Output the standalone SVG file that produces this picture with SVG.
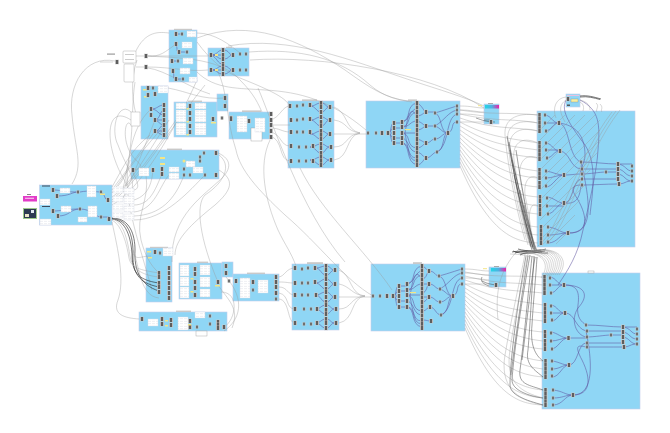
<svg xmlns="http://www.w3.org/2000/svg" width="670" height="433" viewBox="0 0 670 433">
<style>
.g{fill:#8fd6f5;stroke:#c4cdea;stroke-width:.6}
.t{fill:#c9c9c9}
.b{fill:url(#rows);stroke:#d8dbe6;stroke-width:.4}
.o{fill:#fff;stroke:#999;stroke-width:.4}
.y{fill:#f4e585}
.w{fill:none;stroke:#9a9a9a;stroke-width:.4}
.d{fill:none;stroke:#444;stroke-width:.5}
.p{fill:none;stroke:#5f54a0;stroke-width:.55}
.k{fill:none;stroke:#222;stroke-width:.6}
</style>
<defs>
<linearGradient id="gr"><stop offset="0" stop-color="#22d6e6"/><stop offset=".5" stop-color="#4fb0e0"/><stop offset="1" stop-color="#ee1fa6"/></linearGradient>
<pattern id="rows" width="4" height="2.500" patternUnits="userSpaceOnUse"><rect width="4" height="2.500" fill="#fff"/><rect y="1" width="3" height=".4" fill="#d4d7de"/></pattern>
<g id="c"><rect x="-2" y="-2.300" width="4" height="4.600" fill="#d2d2d2"/><rect x="-1.200" y="-2" width="2.400" height="4" fill="#5e5e5e"/></g>
<g id="s"><rect x="-1.600" y="-1.600" width="3.200" height="3.200" fill="#c0c0c0"/><rect x="-.9" y="-1.400" width="1.800" height="2.800" fill="#666"/></g>
<path id="loop" d="M525,252C545,250 556,262 545,277"/>
<path id="fu" d="M538,246C560,230 575,160 612,112"/>
</defs>
<rect width="670" height="433" fill="#fff"/>

<g id="node-groups">
<rect class="g" x="39.5" y="185" width="72.5" height="40"/>
<rect class="g" x="169" y="30" width="28" height="52"/>
<rect class="g" x="208" y="48" width="41" height="28"/>
<rect class="g" x="141" y="86" width="27" height="53"/>
<rect class="g" x="174" y="102" width="43" height="35"/>
<rect class="g" x="217" y="94" width="11" height="17"/>
<rect class="g" x="131" y="150" width="88" height="29"/>
<rect class="g" x="229" y="112" width="41" height="27"/>
<rect class="g" x="288" y="101" width="46" height="67"/>
<rect class="g" x="366" y="101" width="94" height="67"/>
<rect class="g" x="484" y="104" width="15" height="20"/>
<rect class="g" x="537" y="111" width="98" height="136"/>
<rect class="g" x="566" y="94" width="14" height="13"/>
<rect class="g" x="146" y="248" width="26" height="54"/>
<rect class="g" x="179" y="263" width="43" height="36"/>
<rect class="g" x="222" y="262" width="11" height="15"/>
<rect class="g" x="233" y="274" width="46" height="27"/>
<rect class="g" x="292" y="264" width="47" height="66"/>
<rect class="g" x="139" y="312" width="88" height="19"/>
<rect class="g" x="371" y="264" width="94" height="67"/>
<rect class="g" x="489" y="267" width="17" height="20"/>
<rect class="g" x="542" y="273" width="98" height="136"/>
<rect class="t" x="174" y="28.8" width="18" height="1.2"/><rect class="t" x="226" y="46.8" width="6" height="1.2"/>
<rect class="t" x="188" y="100.6" width="14" height="1.4"/><rect class="t" x="167" y="148.6" width="15" height="1.4"/>
<rect class="t" x="242" y="110.4" width="19" height="1.6"/><rect class="t" x="302" y="99.4" width="15" height="1.6"/>
<rect class="t" x="408" y="99.4" width="9" height="1.6"/><rect class="t" x="150" y="246.8" width="18" height="1.2"/>
<rect class="t" x="197" y="261.6" width="11" height="1.4"/><rect class="t" x="247" y="272.6" width="18" height="1.4"/>
<rect class="t" x="307" y="262.2" width="16" height="1.8"/><rect class="t" x="413" y="262.2" width="9" height="1.8"/>
<rect class="t" x="176" y="310.6" width="15" height="1.4"/><rect class="o" x="588" y="271" width="6" height="2"/>
</g>

<g id="connectors">
<path class="w" d="M115,61C85,55 68,85 72,115C75,150 84,165 72,184"/>
<path class="w" d="M135,53C145,30 160,32 169,33M197,33C215,33 230,45 240,53M107,54H115M100,62H113"/>
<path class="w" d="M197,38C250,18 300,40 345,70C370,88 385,98 408,101M228,46C290,35 350,60 410,80C440,90 465,97 484,106"/>
<path class="w" d="M249,52C300,48 340,58 370,85C385,98 400,100 412,102M250,60C320,55 430,72 484,108"/>
<path class="w" d="M136,56H146M136,67H146M148,56C160,57 165,52 176,44M148,56C170,58 220,56 240,80C255,95 258,104 262,112M148,67C170,67 190,72 208,70M148,56H208M148,68C165,70 190,88 210,94"/>
<path class="w" d="M197,42C210,60 225,72 240,78C275,92 285,98 290,106M197,72C215,90 240,88 265,90C300,92 330,100 366,130"/>
<path class="w" d="M168,88C190,92 200,100 226,98M217,70C228,90 226,120 236,150C240,170 258,190 285,215C320,245 345,280 373,296"/>
<path class="w" d="M270,120C280,118 282,106 290,106M270,125H290M270,128C280,128 282,132 290,132M270,132C282,134 280,146 290,146M270,136C284,140 278,160 290,161"/>
<path class="w" d="M334,107C348,112 345,130 360,133M334,120C348,122 345,131 360,133M334,134H368M334,147C348,147 345,135 360,133M334,160C350,158 345,136 360,133"/>
<path class="w" d="M279,277C285,276 286,268 295,268M279,282C288,282 287,283 295,283M279,287C288,287 287,295 295,295M279,293C290,295 285,309 295,309M279,299C290,300 287,323 295,323"/>
<path class="w" d="M339,270C352,275 350,295 365,296M339,284C350,286 352,295 365,296M339,297H373M339,309C352,309 350,297 365,296M339,323C355,320 350,298 365,296"/>
<path class="w" d="M270,140C258,165 265,200 278,230C285,245 291,252 296,266M258,88C272,120 300,210 345,262M300,168C320,210 365,250 392,290"/>
<path class="w" d="M216,152C236,160 228,172 222,178C205,195 170,215 172,262M219,170C235,180 232,190 215,205C190,225 175,240 175,255M219,155C232,165 225,182 205,195C195,205 200,240 218,282"/>
<path class="w" d="M221,292C240,292 236,320 224,327M218,285C228,300 240,308 232,328M226,277C246,300 240,320 224,331"/>
<path class="w" d="M112,187C122,170 130,150 150,135M112,190C125,172 135,160 155,131M112,193C128,170 142,150 165,125M112,197C130,185 140,165 169,120M112,200C135,180 155,150 176,120M112,202C140,180 165,135 205,85M112,205C140,190 175,130 197,80M123,188C130,165 128,130 151,109M123,198C138,165 145,145 155,120"/>
<path class="w" d="M134,190C145,188 128,168 133,170M134,200C150,195 152,180 153,170M134,205C150,205 155,190 162,174M134,212C155,210 160,185 169,175M134,216C160,215 175,200 184,175M134,220C165,220 190,190 205,175"/>
<path class="w" d="M131,112C118,100 110,130 118,145C125,165 135,175 132,190M131,120C108,105 106,135 115,160C122,180 128,182 125,186M131,125C125,115 120,145 136,160C150,175 130,160 126,186"/>
<path class="w" d="M135,82C132,100 133,125 130,150C128,170 125,178 118,186M137,60C130,80 132,105 138,120"/>
<path class="w" d="M112,222C118,250 125,280 118,300C112,315 125,318 139,319M130,160C120,190 138,240 152,290M146,175C150,200 135,215 141,240C145,255 150,265 159,273"/>
<path class="k" d="M112,218C130,218 135,235 135,250C134,270 140,285 159,291M112,218.500C128,219 133,236 133,252C132,272 138,283 159,287M112,219C126,220 131,238 132,254C132,270 136,280 159,283"/>
<path class="w" d="M112,219C125,222 128,245 130,256C132,268 140,275 159,277M112,220C122,225 127,245 129,258C131,268 140,270 159,273M133,250C140,268 140,296 159,298M131,250C136,262 139,256 151,256"/>
<path class="p" d="M53,190C62,190 60,192 78,192M57,196C70,196 72,192 78,192M53,211C62,211 65,209 80,209M58,216C70,216 70,209 80,209M80,192C90,190 95,192 101,192M80,209C92,209 95,217 101,217M101,192C106,195 104,200 108,200M101,217H109"/>
<path class="p" d="M176,34H182M176,44C178,50 176,52 179,52M172,61H178M173,71C175,77 172,79 176,79M179,52H187M176,79H183"/>
<path class="p" d="M211,55C218,55 217,50 223,50M211,55H223M211,55C218,55 217,59 223,59M211,55C218,58 217,64 223,64M223,50C230,50 228,55 233,55M223,59C230,59 228,55 233,55M211,70C218,70 217,66 223,66M211,70H223M211,70C218,70 217,74 223,74M223,66C230,66 228,70 233,70M223,74C230,74 228,70 233,70"/>
<path class="p" d="M151,109C158,109 158,105 164,105M151,109C158,109 158,115 164,115M155,120C160,120 160,110 164,110M155,120H164M155,120C160,122 160,125 164,125M155,131C160,131 160,125 164,125M155,131H164M155,131C160,133 160,135 164,135"/>
<path class="p" d="M321,103C326,103 325,107 330,107M321,112C326,112 325,107 330,107M321,117C326,117 325,120 330,120M321,126C326,126 325,120 330,120M321,131C326,131 325,134 330,134M321,139C326,139 325,134 330,134M321,144C326,144 325,147 330,147M321,153C326,153 325,147 330,147M321,157C326,157 325,160 330,160M321,165C326,165 325,160 330,160M310,106C316,106 316,103 321,103M310,106C316,106 316,112 321,112M310,120C316,120 316,117 321,117M310,120C316,120 316,126 321,126M310,134C316,134 316,131 321,131M310,134C316,134 316,139 321,139M310,147C316,147 316,144 321,144M310,147C316,147 316,153 321,153M310,160C316,160 316,157 321,157M310,160C316,160 316,165 321,165"/>
<path class="p" d="M326,266C331,266 330,270 335,270M326,275C331,275 330,270 335,270M326,279C331,279 330,284 335,284M326,289C331,289 330,284 335,284M326,292C331,292 330,297 335,297M326,302C331,302 330,297 335,297M326,305C331,305 330,309 335,309M326,314C331,314 330,309 335,309M326,319C331,319 330,323 335,323M326,328C331,328 330,323 335,323M315,268C321,268 321,266 326,266M315,268C321,268 321,275 326,275M315,283C321,283 321,279 326,279M315,283C321,283 321,289 326,289M315,295C321,295 321,292 326,292M315,295C321,295 321,302 326,302M315,309C321,309 321,305 326,305M315,309C321,309 321,314 326,314M315,323C321,323 321,319 326,319M315,323C321,323 321,328 326,328"/>
<path class="p" d="M388,133C392,133 390,123 394,123M388,133C392,133 390,128 394,128M388,133H394M388,133C392,133 390,138 394,138M388,133C392,133 390,143 394,143"/>
<path class="p" d="M402,122C412,120 405,105 417,103M402,122C410,120 408,112 417,108M402,127C412,125 405,115 417,112M402,127C410,127 410,121 417,121M402,133H417M402,133C412,134 405,147 417,148M402,138C410,140 408,152 417,152M402,143C412,143 405,160 417,161M402,143C411,145 405,162 417,165M394,123H402M394,128H402M394,138H402M394,143H402M405,133C408,115 410,105 417,116M405,133C408,150 410,160 417,157"/>
<path class="p" d="M417,103C422,105 424,112 426,112M417,116C422,116 424,112 426,112M417,121C422,122 424,126 426,126M417,130C422,130 424,126 426,126M417,139C422,140 424,143 426,143M417,148C422,148 424,143 426,143M417,152C422,153 424,158 426,158M417,165C422,165 424,158 426,158M426,112H435M426,126H435M426,143C431,143 431,139 435,139M426,158C431,158 433,152 437,152M435,113C442,115 440,133 448,133M435,126C441,128 442,133 448,133M435,139C441,139 442,133 448,133M437,152C445,150 442,133 448,133M448,133C455,130 450,122 457,122M435,113C445,110 450,108 457,106M435,126C445,120 448,112 457,110M437,152C450,145 445,118 457,114"/>
<path class="p" d="M393,296C397,296 395,286 399,286M393,296C397,296 395,291 399,291M393,296H399M393,296C397,296 395,301 399,301M393,296C397,296 395,307 399,307M399,286H407M399,291H407M399,301H407M399,307H407"/>
<path class="p" d="M407,284C417,282 410,268 422,266M407,284C415,282 413,275 422,270M407,290C417,288 410,278 422,275M407,290C415,290 415,284 422,284M407,295H422M407,295C417,297 410,310 422,311M407,301C415,303 413,315 422,315M407,307C417,307 410,323 422,324M407,307C416,309 410,325 422,327M410,296C413,278 415,268 422,279M410,296C413,313 415,323 422,320"/>
<path class="p" d="M422,266C427,268 427,271 429,271M422,279C427,279 427,271 429,271M422,284H429M422,293C427,293 427,284 429,284M422,297H429M422,302C427,302 427,297 429,297M422,311C427,311 427,307 430,307M422,320C427,320 427,321 431,321M429,271C435,271 435,276 439,276M429,284C435,284 435,289 440,289M429,297C435,297 435,302 440,302M430,307C435,307 436,315 441,315M439,276C447,278 445,296 453,296M440,289C446,291 447,296 453,296M440,302C446,302 447,296 453,296M441,315C450,313 447,296 453,296M453,296C460,293 455,284 462,284M439,276C450,273 455,271 462,269M440,289C450,283 453,275 462,273M441,315C455,308 450,281 462,278"/>
<path class="p" d="M545,115C552,116 552,123 559,123M545,123H559M545,131C552,131 552,123 559,123M546,143C553,144 553,151 560,151M546,150H560M546,158C553,158 553,151 560,151M546,171C553,172 557,175 564,175M546,178C553,178 557,175 564,175M546,187C553,187 557,175 564,175M547,197C555,198 557,203 564,203M547,206H564M547,214C555,214 557,203 564,203M548,227C558,228 560,233 568,233M548,235C558,235 560,233 568,233M548,243C558,243 560,233 568,233"/>
<path class="p" d="M559,123C570,125 568,158 581,162M560,151C570,152 570,168 581,169M564,175C572,175 574,174 581,174M564,203C574,203 572,180 581,179M568,233C590,233 588,215 575,195C570,187 575,185 581,185M559,123C575,125 585,135 585,155C585,165 578,170 581,174M568,233C595,235 590,200 581,162M564,203C578,205 580,195 581,185"/>
<path class="p" d="M581,162C595,162 605,164 618,164M581,169H618M581,174C590,174 600,172 606,172M581,179H618M581,185C595,185 605,184 618,184M606,172H618M618,164H632M618,164C626,165 626,171 632,171M618,169C625,170 625,176 632,176M618,174C625,175 625,181 632,181M618,184C625,184 625,181 632,181"/>
<path class="p" d="M580,100C600,110 600,125 598,150C597,170 590,200 583,230C578,255 568,270 558,285M568,98C558,108 570,125 585,145C598,165 592,195 590,215"/>
<path class="p" d="M550,277C557,278 557,285 564,285M550,285H564M550,293C557,293 557,285 564,285M551,305C558,306 558,313 565,313M551,313H565M551,321C558,321 558,313 565,313M551,332C558,333 561,338 568,338M551,341C558,341 561,338 568,338M551,349C558,349 561,338 568,338M552,361C560,362 562,365 569,365M552,369C560,369 562,365 569,365M552,377C560,377 562,365 569,365M553,390C563,391 565,395 573,395M553,398C563,398 565,395 573,395M553,405C563,405 565,395 573,395"/>
<path class="p" d="M564,285C576,285 580,290 578,305C576,318 582,322 586,325M565,313C575,313 575,328 586,331M568,338H586M569,365C578,365 578,343 586,343M573,395C590,395 592,380 582,360C574,345 578,345 586,347M564,285C585,285 590,295 578,308C570,320 576,335 586,337M573,395C595,395 592,360 586,331"/>
<path class="p" d="M586,325C600,325 610,327 623,327M586,331H623M586,337C595,337 605,335 611,335M586,343H623M586,347C600,347 610,347 623,347M611,335H623M623,327H637M623,327C631,328 631,334 637,334M623,332C630,333 630,339 637,339M623,337C630,338 630,344 637,344M623,347C630,347 630,344 637,344"/>
<path class="d" d="M484,120H490M476,118C482,120 486,122 495,122M489,286C483,284 480,281 482,277M482,281C488,284 490,284 496,285"/>
<path class="w" d="M460,106C472,106 476,108 484,108M460,110C472,110 476,112 484,112M460,114C472,114 476,115 484,116M460,122H484M465,269C476,269 480,271 489,271M465,273C476,273 480,275 489,275M465,278C476,278 480,279 489,280M465,284H489"/>
<path class="w" d="M460,110C490,115 505,112 538,115M460,114C495,122 510,118 538,123M460,118C495,130 510,126 538,131M460,122C490,138 510,138 538,143M460,126C490,145 510,146 538,150M460,130C490,152 512,155 538,158M460,134C490,160 512,168 538,171M460,138C490,168 512,176 538,178M460,142C490,175 512,185 538,187M460,146C490,185 512,195 538,197M460,150C490,195 515,203 538,206M460,154C490,205 515,212 538,214M460,158C490,215 515,225 538,227M460,162C490,225 515,233 538,235M460,166C490,235 515,242 538,243"/>
<path class="w" d="M465,272C495,278 510,275 543,277M465,276C500,285 515,282 543,285M465,280C500,292 515,290 543,293M465,284C495,300 515,300 543,305M465,288C495,308 515,310 543,313M465,292C495,315 517,318 543,321M465,296C495,322 517,330 543,332M465,300C495,330 517,338 543,341M465,304C495,338 517,347 543,349M465,308C495,348 517,358 543,361M465,312C495,358 520,366 543,369M465,316C495,368 520,375 543,377M465,320C495,378 520,388 543,390M465,324C495,388 520,396 543,398M465,328C495,398 520,404 543,405"/>
<path class="w" d="M538,115C515,112 504,120 505,135C507,160 515,205 525,240M538,123C515,118 506,128 508,140C510,170 518,210 528,245M538,131C518,125 508,135 510,148C514,175 520,215 530,246M538,143C520,135 512,145 514,160C518,185 524,220 532,248M538,158C524,152 518,165 520,178C524,200 528,225 534,248M538,178C528,172 522,185 526,200C530,220 532,238 535,250M538,206C530,200 528,215 530,228C532,240 533,248 536,251"/>
<path class="d" d="M507,136C513,170 522,215 533,247M509,142C515,175 525,215 531,247M512,160C518,185 528,225 533,249M516,150C522,190 528,220 535,251M510,150C516,185 524,225 532,250M514,175C520,200 526,230 534,250M520,190C524,210 530,235 536,250M524,205C528,222 532,238 537,251"/>
<path class="d" d="M543,405C525,400 510,395 510,385C510,360 518,300 526,256M543,398C528,396 512,390 512,380C514,350 522,300 530,255M543,390C530,385 518,385 520,370C524,340 528,295 532,256M543,377C535,370 525,365 528,350C530,325 532,290 534,256M543,361C535,355 530,345 532,325C533,305 536,275 537,257M511,375C515,340 522,295 528,256M522,360C526,330 530,290 535,257"/>
<path class="w" d="M543,405C515,400 500,385 505,355C510,325 520,280 525,254M543,398C520,392 505,382 510,350C514,320 522,285 528,254M518,250C500,270 495,290 498,320M510,254C520,254 530,256 538,258"/>
<path class="k" d="M513,251C522,255 535,253 545,251M515,253C525,249 538,254 548,253M518,249C528,252 536,250 542,252M520,255C528,251 535,252 541,250M512,252C522,250 536,252 546,249"/>
<path class="k" d="M580,96C587,95 594,97 601,99M580,97C588,96 594,98 600,99.500"/>
<path class="w" d="M566,97C556,98 552,108 556,118M566,100C560,104 558,110 565,122M580,100C588,102 590,106 590,110M580,102C584,104 584,108 583,111M596,103C600,106 595,110 597,112M600,104C604,108 600,110 602,112"/>
<g class="w">
<use href="#fu"/><use href="#fu" x="4" y="-1"/><use href="#fu" x="8" y="-2"/>
<use href="#loop"/><use href="#loop" x="2" y="-.5"/><use href="#loop" x="4" y="-1"/><use href="#loop" x="6" y="-1.500"/><use href="#loop" x="8" y="-2"/><use href="#loop" x="10" y="-2"/><use href="#loop" x="12" y="-2"/><use href="#loop" x="14" y="-2"/><use href="#loop" x="-2" y="1"/><use href="#loop" x="-4" y="1"/>
</g>
<path class="w" d="M540,130L555,115M540,140L565,115M540,150L575,115M540,160L585,115M540,170L595,115M540,180L600,120M540,190L600,130M540,200L600,140M540,210L598,152M540,220L590,170M540,230L585,185M540,240L580,200M548,242L575,215M556,244L570,230"/>
</g>

<g id="n1">
<rect class="b" x="40" y="199" width="10" height="6"/><rect class="b" x="40" y="219" width="11" height="6"/><rect class="b" x="60" y="188" width="10" height="5"/><rect class="b" x="61" y="206" width="10" height="6"/><rect class="b" x="78" y="217" width="9" height="5"/><rect class="b" x="87" y="186" width="9" height="11"/><rect class="b" x="88" y="206" width="9" height="11"/>
<use href="#c" x="53" y="190"/><use href="#c" x="57" y="196"/><use href="#c" x="53" y="211"/><use href="#c" x="58" y="216"/><use href="#s" x="78" y="192"/><use href="#s" x="80" y="209"/><use href="#s" x="101" y="192"/><use href="#c" x="108" y="200"/><use href="#s" x="101" y="217"/><use href="#c" x="109" y="219"/><rect class="y" x="100" y="193.500" width="5" height="1.500"/>
<rect fill="#3d4a5a" x="42" y="185.500" width="8" height="1"/><rect fill="#3d4a5a" x="42" y="206" width="8" height="1"/>
</g>
<g id="n2">
<rect class="b" x="113" y="187" width="10" height="6"/><rect class="b" x="113" y="196" width="10" height="6"/><rect class="b" x="113" y="204" width="10" height="6"/><rect class="b" x="113" y="212" width="10" height="6"/><rect class="b" x="124" y="188" width="10" height="6"/><rect class="b" x="124" y="196" width="10" height="8"/><rect class="b" x="124" y="206" width="10" height="6"/><rect class="b" x="124" y="214" width="10" height="6"/>
</g>
<g id="n3"><rect fill="#e23cc8" x="23" y="196" width="14" height="5.500"/><rect fill="#fff" x="25" y="197.800" width="9" height=".8"/><rect fill="#888" x="27" y="194" width="4" height="1"/></g>
<g id="n4"><rect fill="#9cc98a" x="23" y="208" width="14" height="11"/><rect fill="#2c3a52" x="24" y="209" width="12" height="9"/><rect fill="#e9e4c8" x="25" y="214" width="4" height="3"/><rect fill="#dfe7f0" x="31" y="210" width="3" height="3"/></g>
<g id="n5"><rect class="o" x="123" y="51" width="13" height="12" rx="1"/><rect class="o" x="124" y="64" width="10" height="18" rx="1"/><rect fill="#999" x="125" y="54" width="9" height=".5"/><rect fill="#999" x="125" y="59" width="9" height=".5"/><use href="#c" x="117" y="62"/><rect fill="#888" x="107" y="53.700" width="8" height=".8"/><use href="#c" x="146" y="56"/><use href="#c" x="146" y="67"/></g>
<g id="n6"><rect class="b" x="187" y="31" width="9" height="6"/><rect class="b" x="182" y="42" width="10" height="6"/><rect class="b" x="183" y="58" width="10" height="6"/><rect class="b" x="180" y="68" width="10" height="6"/><rect class="b" x="189" y="77" width="8" height="5"/><use href="#c" x="176" y="34"/><use href="#s" x="182" y="34"/><use href="#c" x="176" y="44"/><use href="#c" x="179" y="52"/><use href="#s" x="187" y="52"/><use href="#c" x="172" y="61"/><use href="#s" x="178" y="61"/><use href="#c" x="173" y="71"/><use href="#c" x="176" y="79"/><use href="#s" x="183" y="79"/></g>
<g id="n7"><use href="#c" x="211" y="55"/><rect class="y" x="215" y="54" width="3" height="2"/><use href="#c" x="223" y="50"/><use href="#c" x="223" y="55"/><use href="#c" x="223" y="59"/><use href="#c" x="223" y="64"/><use href="#c" x="233" y="55"/><use href="#s" x="240" y="54"/><use href="#s" x="246" y="54"/><use href="#c" x="211" y="70"/><rect class="y" x="215" y="69" width="3" height="2"/><use href="#c" x="223" y="66"/><use href="#c" x="223" y="69"/><use href="#c" x="223" y="74"/><use href="#c" x="233" y="70"/><use href="#s" x="240" y="70"/><use href="#s" x="246" y="70"/></g>
<g id="n8"><rect class="b" x="158" y="86" width="10" height="7"/><rect class="y" x="143" y="89" width="4" height="1.500"/><rect class="y" x="144" y="96" width="4" height="1.500"/><use href="#c" x="148" y="88"/><use href="#s" x="153" y="88"/><use href="#c" x="148" y="95"/><use href="#c" x="155" y="94"/><use href="#c" x="151" y="109"/><use href="#c" x="155" y="120"/><use href="#c" x="155" y="131"/><use href="#c" x="151" y="115"/><use href="#c" x="164" y="105"/><use href="#c" x="164" y="110"/><use href="#c" x="164" y="115"/><use href="#c" x="164" y="120"/><use href="#c" x="164" y="125"/><use href="#c" x="164" y="130"/><use href="#c" x="164" y="135"/><rect class="o" x="131" y="112" width="9" height="14"/></g>
<g id="n9"><rect class="b" x="176" y="103" width="10" height="6"/><rect class="b" x="176" y="110" width="10" height="6"/><rect class="b" x="176" y="116" width="10" height="6"/><rect class="b" x="176" y="123" width="10" height="6"/><rect class="b" x="176" y="129" width="10" height="6"/><rect class="b" x="195" y="103" width="11" height="6"/><rect class="b" x="195" y="110" width="11" height="6"/><rect class="b" x="195" y="116" width="11" height="6"/><rect class="b" x="195" y="123" width="11" height="6"/><rect class="b" x="195" y="129" width="11" height="6"/><use href="#c" x="190" y="106"/><use href="#c" x="190" y="113"/><use href="#c" x="190" y="119"/><use href="#c" x="190" y="126"/><use href="#c" x="190" y="132"/><rect class="y" x="186.500" y="108" width="2.500" height="1.500"/><rect class="y" x="186.500" y="121" width="2.500" height="1.500"/><rect class="y" x="186.500" y="134" width="2.500" height="1.500"/><use href="#c" x="213" y="119"/><rect class="y" x="211" y="122" width="5" height="1.500"/><use href="#s" x="222" y="118"/><use href="#c" x="231" y="118"/><use href="#c" x="225" y="98"/><use href="#c" x="225" y="106"/></g>
<g id="n10"><use href="#c" x="133" y="170"/><rect class="b" x="139" y="168" width="10" height="8"/><use href="#c" x="153" y="170"/><rect class="y" x="160" y="157" width="5" height="2"/><rect class="y" x="160" y="163" width="5" height="2"/><use href="#c" x="162" y="169"/><use href="#c" x="162" y="174"/><rect class="b" x="169" y="167" width="10" height="5"/><rect class="b" x="169" y="173" width="10" height="6"/><use href="#s" x="184" y="169"/><use href="#s" x="184" y="175"/><use href="#s" x="190" y="175"/><rect class="b" x="186" y="161" width="9" height="6"/><rect class="b" x="193" y="167" width="10" height="6"/><use href="#s" x="200" y="157"/><use href="#s" x="200" y="161"/><use href="#s" x="204" y="153"/><use href="#c" x="216" y="153"/><use href="#c" x="216" y="175"/><use href="#s" x="205" y="175"/><circle cx="184" cy="161" r="1.500" fill="#f4e585"/></g>
<g id="n11"><rect class="b" x="237" y="116" width="10" height="16"/><rect class="o" x="251" y="128" width="11" height="13"/><rect class="b" x="255" y="118" width="10" height="14"/><use href="#c" x="231" y="119"/><use href="#c" x="249" y="121"/><use href="#c" x="271" y="114"/><use href="#c" x="271" y="120"/><use href="#c" x="271" y="125"/><use href="#c" x="271" y="131"/><use href="#c" x="271" y="137"/></g>
<g id="n12">
<use href="#c" x="290" y="106"/><use href="#s" x="297" y="106"/><use href="#s" x="303" y="105"/><use href="#c" x="310" y="105"/>
<use href="#c" x="291" y="120"/><use href="#s" x="297" y="120"/><use href="#s" x="303" y="119"/><use href="#c" x="310" y="119"/>
<use href="#c" x="291" y="132"/><use href="#s" x="297" y="132"/><use href="#s" x="303" y="132"/><use href="#c" x="310" y="132"/>
<use href="#c" x="291" y="146"/><use href="#s" x="299" y="147"/><use href="#s" x="306" y="147"/><use href="#c" x="313" y="146"/>
<use href="#c" x="291" y="161"/><use href="#s" x="299" y="161"/><use href="#s" x="306" y="161"/><use href="#c" x="313" y="161"/>
<use href="#c" x="321" y="103"/><use href="#c" x="321" y="107"/><use href="#c" x="321" y="112"/><use href="#c" x="321" y="117"/><use href="#c" x="321" y="122"/><use href="#c" x="321" y="126"/><use href="#c" x="321" y="131"/><use href="#c" x="321" y="135"/><use href="#c" x="321" y="139"/><use href="#c" x="321" y="144"/><use href="#c" x="321" y="148"/><use href="#c" x="321" y="153"/><use href="#c" x="321" y="157"/><use href="#c" x="321" y="161"/><use href="#c" x="321" y="165"/>
<use href="#c" x="330" y="107"/><use href="#c" x="330" y="120"/><use href="#c" x="330" y="134"/><use href="#c" x="331" y="147"/><use href="#c" x="331" y="160"/>
</g>
<g id="n13">
<use href="#s" x="368" y="133"/><use href="#s" x="376" y="133"/><use href="#c" x="382" y="133"/><use href="#c" x="388" y="133"/>
<use href="#c" x="394" y="123"/><use href="#c" x="394" y="128"/><use href="#c" x="394" y="133"/><use href="#c" x="394" y="138"/><use href="#c" x="394" y="143"/><use href="#c" x="402" y="122"/><use href="#c" x="402" y="127"/><use href="#c" x="402" y="133"/><use href="#c" x="402" y="138"/><use href="#c" x="402" y="143"/><rect class="y" x="405" y="129" width="6" height="1.200"/>
<use href="#c" x="417" y="103"/><use href="#c" x="417" y="107.500"/><use href="#c" x="417" y="112"/><use href="#c" x="417" y="116.500"/><use href="#c" x="417" y="121"/><use href="#c" x="417" y="125.500"/><use href="#c" x="417" y="130"/><use href="#c" x="417" y="134.500"/><use href="#c" x="417" y="139"/><use href="#c" x="417" y="143.500"/><use href="#c" x="417" y="148"/><use href="#c" x="417" y="152.500"/><use href="#c" x="417" y="157"/><use href="#c" x="417" y="161"/><use href="#c" x="417" y="165"/>
<use href="#c" x="426" y="112"/><use href="#c" x="426" y="126"/><use href="#c" x="426" y="143"/><use href="#c" x="426" y="158"/><use href="#s" x="435" y="113"/><use href="#s" x="435" y="126"/><use href="#s" x="435" y="139"/><use href="#s" x="437" y="152"/><use href="#c" x="448" y="133"/><use href="#s" x="457" y="106"/><use href="#s" x="457" y="110"/><use href="#s" x="457" y="114"/><use href="#s" x="457" y="122"/>
</g>
<g id="n14"><rect fill="url(#gr)" x="485" y="105" width="14" height="3.500"/><rect class="y" x="478" y="105" width="4" height="1.200" fill-opacity=".8"/><use href="#c" x="491" y="122"/><rect fill="#aaa" x="488" y="103" width="5" height="1"/></g>
<g id="n15"><use href="#c" x="568" y="99"/><rect fill="#f7efa0" stroke="#777" stroke-width=".3" x="571" y="99" width="7" height="3"/><rect fill="#e8c0e0" x="567" y="95" width="12" height="1"/><rect fill="#555" x="567" y="104.500" width="3" height="1.500"/></g>
<g id="n16">
<use href="#c" x="539.500" y="115"/><use href="#c" x="539.500" y="119"/><use href="#c" x="539.500" y="123"/><use href="#c" x="539.500" y="127"/><use href="#c" x="539.500" y="131"/><use href="#s" x="545" y="115"/><use href="#s" x="545" y="123"/><use href="#s" x="546" y="131"/>
<use href="#c" x="539.500" y="143"/><use href="#c" x="539.500" y="147"/><use href="#c" x="539.500" y="151"/><use href="#c" x="539.500" y="155"/><use href="#c" x="539.500" y="159"/><use href="#s" x="546" y="143"/><use href="#s" x="546" y="150"/><use href="#s" x="547" y="158"/>
<use href="#c" x="539.500" y="170"/><use href="#c" x="539.500" y="174"/><use href="#c" x="539.500" y="178"/><use href="#c" x="539.500" y="183"/><use href="#c" x="539.500" y="187"/><use href="#s" x="546" y="171"/><use href="#s" x="546" y="178"/><use href="#s" x="546" y="186"/>
<use href="#c" x="540" y="197"/><use href="#c" x="540" y="201"/><use href="#c" x="540" y="206"/><use href="#c" x="540" y="210"/><use href="#c" x="540" y="214"/><use href="#s" x="547" y="198"/><use href="#s" x="547" y="206"/><use href="#s" x="548" y="214"/>
<use href="#c" x="541" y="227"/><use href="#c" x="541" y="231"/><use href="#c" x="541" y="235"/><use href="#c" x="541" y="239"/><use href="#c" x="541" y="243"/><use href="#s" x="548" y="227"/><use href="#s" x="548" y="235"/><use href="#s" x="548" y="242"/>
<use href="#c" x="559" y="123"/><use href="#c" x="560" y="151"/><use href="#c" x="564" y="175"/><use href="#c" x="564" y="203"/><use href="#c" x="568" y="233"/>
<use href="#s" x="581" y="162"/><use href="#s" x="582" y="169"/><use href="#s" x="582" y="174"/><use href="#s" x="582" y="179"/><use href="#s" x="582" y="185"/><use href="#s" x="606" y="172"/>
<use href="#c" x="618" y="164"/><use href="#c" x="618" y="169"/><use href="#c" x="618" y="174"/><use href="#c" x="618" y="179"/><use href="#c" x="619" y="184"/><use href="#s" x="632" y="166"/><use href="#s" x="632" y="171"/><use href="#s" x="632" y="176"/><use href="#s" x="632" y="181"/>
</g>
<g id="n17"><rect class="b" x="163" y="248" width="10" height="8"/><rect class="y" x="147" y="251" width="4" height="1.500"/><rect class="y" x="148" y="257" width="4" height="1.500"/><use href="#c" x="155" y="252"/><use href="#s" x="160" y="253"/><use href="#c" x="159" y="273"/><use href="#c" x="159" y="277"/><use href="#c" x="159" y="283"/><use href="#c" x="159" y="287"/><use href="#c" x="159" y="292"/><use href="#c" x="169" y="268"/><use href="#c" x="169" y="273"/><use href="#c" x="169" y="278"/><use href="#c" x="169" y="283"/><use href="#c" x="169" y="288"/><use href="#c" x="169" y="293"/><use href="#c" x="169" y="298"/></g>
<g id="n18"><rect class="b" x="180" y="265" width="9" height="11"/><rect class="b" x="180" y="277" width="9" height="9"/><rect class="b" x="180" y="287" width="9" height="11"/><rect class="b" x="200" y="265" width="10" height="10"/><rect class="b" x="200" y="277" width="10" height="10"/><rect class="b" x="200" y="289" width="10" height="8"/><use href="#c" x="195" y="269"/><use href="#c" x="195" y="274"/><use href="#c" x="195" y="282"/><use href="#c" x="195" y="288"/><use href="#c" x="195" y="295"/><rect class="y" x="190.500" y="278" width="3" height="1.500"/><rect class="y" x="190.500" y="291" width="3" height="1.500"/><use href="#c" x="218" y="282"/><rect class="y" x="215" y="285" width="5" height="1.500"/><use href="#c" x="226" y="266"/><use href="#c" x="226" y="273"/></g>
<g id="n19"><use href="#s" x="229" y="281"/><use href="#c" x="236" y="281"/><rect class="b" x="240" y="278" width="10" height="20"/><use href="#c" x="253" y="282"/><use href="#s" x="253" y="290"/><rect class="b" x="258" y="280" width="10" height="13"/><use href="#c" x="276" y="277"/><use href="#c" x="276" y="282"/><use href="#c" x="276" y="287"/><use href="#c" x="276" y="293"/><use href="#s" x="276" y="299"/></g>
<g id="n20">
<use href="#c" x="295" y="268"/><use href="#s" x="302" y="269"/><use href="#s" x="308" y="268"/><use href="#c" x="315" y="268"/>
<use href="#c" x="295" y="283"/><use href="#s" x="302" y="283"/><use href="#s" x="308" y="283"/><use href="#c" x="315" y="282"/>
<use href="#c" x="295" y="295"/><use href="#s" x="302" y="295"/><use href="#s" x="308" y="295"/><use href="#c" x="316" y="295"/>
<use href="#c" x="295" y="309"/><use href="#s" x="304" y="309"/><use href="#s" x="311" y="309"/><use href="#c" x="317" y="309"/>
<use href="#c" x="295" y="323"/><use href="#s" x="304" y="324"/><use href="#s" x="311" y="324"/><use href="#c" x="317" y="323"/>
<use href="#c" x="326" y="266"/><use href="#c" x="326" y="270"/><use href="#c" x="326" y="275"/><use href="#c" x="326" y="279"/><use href="#c" x="326" y="284"/><use href="#c" x="326" y="289"/><use href="#c" x="326" y="292"/><use href="#c" x="326" y="297"/><use href="#c" x="326" y="302"/><use href="#c" x="326" y="305"/><use href="#c" x="326" y="310"/><use href="#c" x="326" y="314"/><use href="#c" x="326" y="319"/><use href="#c" x="326" y="323"/><use href="#c" x="326" y="328"/>
<use href="#c" x="335" y="270"/><use href="#c" x="335" y="284"/><use href="#c" x="335" y="297"/><use href="#c" x="336" y="309"/><use href="#c" x="336" y="323"/>
</g>
<g id="n21"><use href="#c" x="142" y="319"/><rect class="b" x="148" y="319" width="10" height="7"/><use href="#c" x="162" y="319"/><use href="#c" x="162" y="324"/><use href="#c" x="171" y="320"/><use href="#c" x="171" y="325"/><rect class="y" x="165" y="320" width="3" height="1.500"/><rect class="y" x="165" y="325" width="3" height="1.500"/><rect class="b" x="178" y="317" width="10" height="13"/><use href="#c" x="190" y="321"/><use href="#c" x="190" y="327"/><rect class="y" x="188" y="324" width="3" height="1.500"/><rect class="b" x="195" y="312" width="10" height="6"/><use href="#s" x="197" y="327"/><use href="#s" x="210" y="316"/><use href="#s" x="210" y="324"/><use href="#c" x="218" y="322"/><use href="#c" x="218" y="325"/><use href="#c" x="218" y="328"/><use href="#c" x="224" y="327"/><rect class="o" x="196" y="331" width="11" height="5"/></g>
<g id="n22">
<use href="#s" x="373" y="296"/><use href="#s" x="380" y="296"/><use href="#c" x="387" y="296"/><use href="#c" x="393" y="296"/>
<use href="#c" x="399" y="286"/><use href="#c" x="399" y="291"/><use href="#c" x="399" y="296"/><use href="#c" x="399" y="301"/><use href="#c" x="399" y="307"/><use href="#c" x="407" y="284"/><use href="#c" x="407" y="290"/><use href="#c" x="407" y="295"/><use href="#c" x="407" y="301"/><use href="#c" x="407" y="307"/><rect class="y" x="410" y="292" width="6" height="1.200"/>
<use href="#c" x="422" y="266"/><use href="#c" x="422" y="270.500"/><use href="#c" x="422" y="275"/><use href="#c" x="422" y="279.500"/><use href="#c" x="422" y="284"/><use href="#c" x="422" y="288.500"/><use href="#c" x="422" y="293"/><use href="#c" x="422" y="297.500"/><use href="#c" x="422" y="302"/><use href="#c" x="422" y="306.500"/><use href="#c" x="422" y="311"/><use href="#c" x="422" y="315.500"/><use href="#c" x="422" y="320"/><use href="#c" x="422" y="324"/><use href="#c" x="422" y="328"/>
<use href="#c" x="429" y="271"/><use href="#c" x="429" y="284"/><use href="#c" x="429" y="297"/><use href="#c" x="430" y="307"/><use href="#c" x="431" y="321"/><use href="#s" x="439" y="276"/><use href="#s" x="440" y="289"/><use href="#s" x="440" y="302"/><use href="#s" x="441" y="315"/><use href="#c" x="453" y="296"/><use href="#s" x="462" y="269"/><use href="#s" x="462" y="273"/><use href="#s" x="462" y="278"/><use href="#s" x="462" y="284"/>
</g>
<g id="n23"><rect fill="url(#gr)" x="491" y="268" width="15" height="3.500"/><rect class="y" x="483" y="268" width="4" height="1.200" fill-opacity=".8"/><use href="#c" x="496" y="285"/><rect fill="#aaa" x="494" y="266" width="5" height="1"/></g>
<g id="n24">
<use href="#c" x="544.500" y="277"/><use href="#c" x="544.500" y="281"/><use href="#c" x="544.500" y="285"/><use href="#c" x="544.500" y="289"/><use href="#c" x="544.500" y="293"/><use href="#s" x="550" y="278"/><use href="#s" x="550" y="285"/><use href="#s" x="551" y="293"/>
<use href="#c" x="545" y="305"/><use href="#c" x="545" y="309"/><use href="#c" x="545" y="313"/><use href="#c" x="545" y="317"/><use href="#c" x="545" y="321"/><use href="#s" x="551" y="306"/><use href="#s" x="551" y="313"/><use href="#s" x="552" y="320"/>
<use href="#c" x="545" y="332"/><use href="#c" x="545" y="336"/><use href="#c" x="545" y="341"/><use href="#c" x="545" y="345"/><use href="#c" x="545" y="349"/><use href="#s" x="551" y="333"/><use href="#s" x="551" y="341"/><use href="#s" x="552" y="349"/>
<use href="#c" x="545.500" y="361"/><use href="#c" x="545.500" y="365"/><use href="#c" x="545.500" y="369"/><use href="#c" x="545.500" y="373"/><use href="#c" x="545.500" y="377"/><use href="#s" x="552" y="361"/><use href="#s" x="552" y="369"/><use href="#s" x="552" y="376"/>
<use href="#c" x="545.500" y="390"/><use href="#c" x="545.500" y="394"/><use href="#c" x="545.500" y="398"/><use href="#c" x="545.500" y="402"/><use href="#c" x="545.500" y="405"/><use href="#s" x="553" y="390"/><use href="#s" x="553" y="398"/><use href="#s" x="553" y="405"/>
<use href="#c" x="564" y="285"/><use href="#c" x="565" y="313"/><use href="#c" x="568.500" y="338"/><use href="#c" x="569" y="365"/><use href="#c" x="573" y="395"/>
<use href="#s" x="586" y="325"/><use href="#s" x="587" y="331"/><use href="#s" x="587" y="337"/><use href="#s" x="587" y="343"/><use href="#s" x="587" y="347"/><use href="#s" x="611" y="335"/>
<use href="#c" x="623" y="327"/><use href="#c" x="623" y="332"/><use href="#c" x="623" y="337"/><use href="#c" x="623" y="342"/><use href="#c" x="624" y="347"/><use href="#s" x="637" y="329"/><use href="#s" x="637" y="334"/><use href="#s" x="637" y="339"/><use href="#s" x="637" y="344"/>
</g>
</svg>
